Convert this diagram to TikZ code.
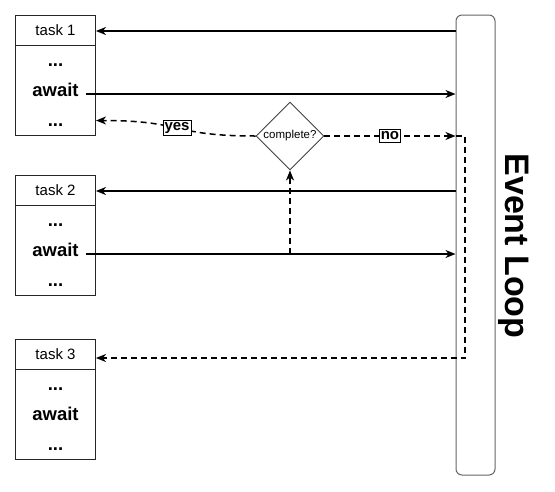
\documentclass[tikz,border=0pt]{standalone}
\usepackage{fontspec}
\setmainfont{Liberation Sans}
\usetikzlibrary{shapes.geometric,arrows.meta,calc}
\tikzset{
  box/.style={draw=black!85, line width=0.9pt, rectangle, minimum width=80pt, inner sep=0pt},
  headbox/.style={box, minimum height=30pt, font=\fontsize{15}{15}\selectfont},
  bodybox/.style={box, minimum height=90pt},
  bodytxt/.style={font=\fontsize{18.5}{18.5}\selectfont\bfseries, anchor=base, inner sep=0pt},
  conn/.style={line width=1.5pt, -{Stealth[length=10pt,width=8pt,inset=3pt]}},
  dconn/.style={conn, dash pattern=on 6pt off 4pt},
  lbl/.style={draw=black, solid, line width=1pt, fill=white, inner xsep=1.5pt, inner ysep=2pt, font=\fontsize{15}{15}\selectfont\bfseries},
  loopbox/.style={draw=black!60, line width=1pt, rounded corners=6pt, minimum width=39pt, minimum height=460pt, inner sep=0pt},
  decision/.style={diamond, draw=black!75, line width=0.9pt, minimum width=68pt, minimum height=68pt, inner sep=0pt, font=\fontsize{11.5}{11.5}\selectfont}
}
\begin{document}
\begin{tikzpicture}[x=1pt,y=-1pt]
\useasboundingbox (0,0) rectangle (555,491);
% event loop
\node[loopbox] (el) at (475.5,245) {};
\node[rotate=-90, font=\fontsize{34}{34}\selectfont\bfseries, inner sep=0pt] (eltxt) at (514,246) {Event Loop};
% task 1
\node[headbox] (t1h) at (55.5,30) {task 1};
\node[bodybox] (t1b) at (55.5,90) {};
\node[bodytxt] (t1d1) at (55.5,66) {...};
\node[bodytxt] (t1aw) at (55.5,96) {await};
\node[bodytxt] (t1d2) at (55.5,126) {...};
% task 2
\node[headbox] (t2h) at (55.5,190) {task 2};
\node[bodybox] (t2b) at (55.5,250) {};
\node[bodytxt] (t2d1) at (55.5,226) {...};
\node[bodytxt] (t2aw) at (55.5,256) {await};
\node[bodytxt] (t2d2) at (55.5,286) {...};
% task 3
\node[headbox] (t3h) at (55.5,354) {task 3};
\node[bodybox] (t3b) at (55.5,414) {};
\node[bodytxt] (t3d1) at (55.5,390) {...};
\node[bodytxt] (t3aw) at (55.5,420) {await};
\node[bodytxt] (t3d2) at (55.5,450) {...};
% decision
\node[decision] (dec) at (290,136) {complete?};
\coordinate (a1) at (86,94);
\coordinate (a2) at (86,254);
\coordinate (y1) at (96,120.5);
% connectors
\draw[conn] (el.west |- 0,31) -- (t1h.east |- 0,31);
\draw[conn] (a1) -- (el.west |- a1);
\draw[conn] (el.west |- 0,191) -- (t2h.east |- 0,191);
\draw[conn] (a2) -- (el.west |- a2);
\draw[dconn] (dec.west) .. controls (170,136) and (185,120.5) .. node[lbl, pos=0.5] {yes} (y1);
\draw[dconn] (dec.east) -- node[lbl] {no} (el.west |- dec.east);
\draw[dconn] (el.west |- dec.east) -- ++(9.5,0) |- (t3h.east |- 0,358);
\draw[dconn] (dec.south |- a2) -- (dec.south);
\end{tikzpicture}
\end{document}
